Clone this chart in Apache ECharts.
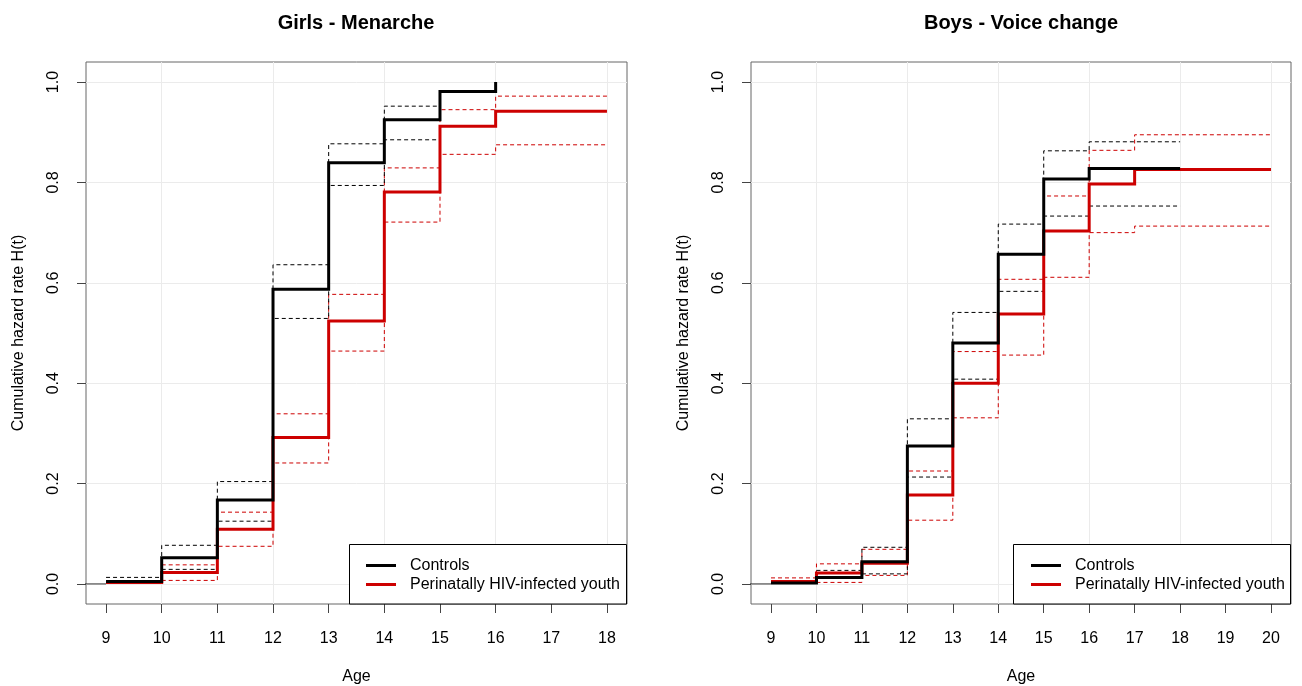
<!DOCTYPE html>
<html>
<head>
<meta charset="utf-8">
<script src="https://cdn.jsdelivr.net/npm/echarts@6/dist/echarts.min.js"></script>
<style>
html,body{margin:0;padding:0;background:#fff;}
#chart{width:1302px;height:686px;}
</style>
</head>
<body>
<div id="chart"></div>
<script>
// ---------- tick labels / axes ----------
const girlsAgeTicks = [9, 10, 11, 12, 13, 14, 15, 16, 17, 18];
const boysAgeTicks = [9, 10, 11, 12, 13, 14, 15, 16, 17, 18, 19, 20];
const girlsGridAges = [10, 12, 14, 16, 18];
const boysGridAges = [10, 12, 14, 16, 18, 20];
const hazardTicks = [0, 0.2, 0.4, 0.6, 0.8, 1.0];
const girlsAgeRange = [8.64, 18.36];
const boysAgeRange = [8.56, 20.44];
const hazardRange = [-0.04, 1.04];

// ---------- Girls - Menarche (values per yearly step, [startAge, endAge]) ----------
const girlsControls = [0.005, 0.052, 0.167, 0.587, 0.839, 0.925, 0.981, 1.000];
const girlsControlsSpan = [9, 16];
const girlsControlsUpper = [0.013, 0.077, 0.204, 0.636, 0.877, 0.952];
const girlsControlsUpperSpan = [9, 15];
const girlsControlsLower = [0.029, 0.125, 0.529, 0.794, 0.885];
const girlsControlsLowerSpan = [10, 15];
const girlsHIV = [0.003, 0.023, 0.109, 0.292, 0.524, 0.781, 0.912, 0.942, 0.942];
const girlsHIVSpan = [9, 18];
const girlsHIVUpper = [0.038, 0.143, 0.339, 0.577, 0.829, 0.945, 0.972, 0.972];
const girlsHIVUpperSpan = [10, 18];
const girlsHIVLower = [0.007, 0.075, 0.241, 0.464, 0.721, 0.856, 0.875, 0.875];
const girlsHIVLowerSpan = [10, 18];

// ---------- Boys - Voice change ----------
const boysControls = [0.002, 0.013, 0.044, 0.275, 0.480, 0.657, 0.807, 0.828, 0.828];
const boysControlsSpan = [9, 18];
const boysControlsUpper = [0.027, 0.073, 0.329, 0.541, 0.717, 0.863, 0.881, 0.881];
const boysControlsUpperSpan = [10, 18];
const boysControlsLower = [0.020, 0.213, 0.408, 0.583, 0.733, 0.753, 0.753];
const boysControlsLowerSpan = [11, 18];
const boysHIV = [0.005, 0.022, 0.041, 0.177, 0.400, 0.538, 0.703, 0.797, 0.826, 0.826, 0.826];
const boysHIVSpan = [9, 20];
const boysHIVUpper = [0.012, 0.040, 0.069, 0.225, 0.463, 0.607, 0.773, 0.864, 0.895, 0.895, 0.895];
const boysHIVUpperSpan = [9, 20];
const boysHIVLower = [0.003, 0.017, 0.127, 0.331, 0.456, 0.611, 0.700, 0.713, 0.713, 0.713];
const boysHIVLowerSpan = [10, 20];

// baseline (H(t) = 0 before the first age) drawn as a thin line
const baselineAges = [0, 9];
const baselineValue = [0, 0];

const panelTitles = ['Girls - Menarche', 'Boys - Voice change'];
const groupNames = ['Controls', 'Perinatally HIV-infected youth'];
const xTitle = 'Age';
const yTitle = 'Cumulative hazard rate H(t)';

// ---------- styling ----------
const FONT = "'Liberation Sans', Arial, Helvetica, sans-serif";
const BLACK = '#000000';
const RED = '#CD0000';
const GRID_COLOR = '#ebebeb';
const BOX_COLOR = '#666666';

function stepPoints(values, span) {
  const pts = values.map((v, i) => [span[0] + i, v]);
  const lastAge = span[0] + values.length - 1;
  if (lastAge < span[1]) pts.push([span[1], values[values.length - 1]]);
  return pts;
}

function mainLine(name, color, values, span, xIdx, yIdx, z) {
  return {
    name: name, type: 'line', step: 'end', xAxisIndex: xIdx, yAxisIndex: yIdx,
    data: stepPoints(values, span), showSymbol: false, symbol: 'none',
    color: color, itemStyle: {color: color},
    lineStyle: {color: color, width: 3, join: 'miter'},
    silent: true, z: z
  };
}
function ciLine(name, color, values, span, xIdx, yIdx) {
  return {
    name: name, type: 'line', step: 'end', xAxisIndex: xIdx, yAxisIndex: yIdx,
    data: stepPoints(values, span), showSymbol: false, symbol: 'none',
    color: color, itemStyle: {color: color},
    lineStyle: {color: color, width: 1, type: [4, 3]},
    silent: true, z: 2
  };
}
function baseLine(name, xIdx, yIdx) {
  return {
    name: name, type: 'line', xAxisIndex: xIdx, yAxisIndex: yIdx,
    data: baselineAges.map((a, i) => [a, baselineValue[i]]), showSymbol: false, symbol: 'none',
    lineStyle: {color: '#333', width: 1}, silent: true, z: 2
  };
}

const grids = [
  {left: 86, top: 62, width: 541, height: 542},
  {left: 751, top: 62, width: 540, height: 542}
];

function xAxesFor(gridIndex, range, ticks, gridAges) {
  return [
    {
      gridIndex: gridIndex, type: 'value', min: range[0], max: range[1], position: 'bottom',
      name: xTitle, nameLocation: 'middle', nameGap: 65,
      nameTextStyle: {fontFamily: FONT, fontSize: 16, color: BLACK},
      axisLine: {show: false, onZero: false},
      axisTick: {show: true, length: 9, customValues: ticks, lineStyle: {color: '#444', width: 1}},
      axisLabel: {show: true, customValues: ticks, margin: 27, fontFamily: FONT, fontSize: 16, color: BLACK,
                  formatter: v => String(v)},
      splitLine: {show: false}
    },
    {
      gridIndex: gridIndex, type: 'value', min: range[0], max: range[1], position: 'top',
      axisLine: {show: false, onZero: false},
      axisTick: {show: false, customValues: gridAges},
      axisLabel: {show: false, customValues: gridAges},
      splitLine: {show: true, lineStyle: {color: GRID_COLOR, width: 1}}
    }
  ];
}
function yAxisFor(gridIndex) {
  return {
    gridIndex: gridIndex, type: 'value', min: hazardRange[0], max: hazardRange[1],
    name: yTitle, nameLocation: 'middle', nameGap: 59,
    nameTextStyle: {fontFamily: FONT, fontSize: 16, color: BLACK},
    axisLine: {show: false, onZero: false},
    axisTick: {show: true, length: 9, customValues: hazardTicks, lineStyle: {color: '#444', width: 1}},
    axisLabel: {show: true, customValues: hazardTicks, rotate: 90, margin: 24, fontFamily: FONT, fontSize: 16,
                color: BLACK, formatter: v => v.toFixed(1)},
    splitLine: {show: true, lineStyle: {color: GRID_COLOR, width: 1}}
  };
}

const series = [
  // Girls (x axis 0, y axis 0)
  baseLine('Girls baseline', 0, 0),
  ciLine('Girls HIV upper CI', RED, girlsHIVUpper, girlsHIVUpperSpan, 0, 0),
  ciLine('Girls HIV lower CI', RED, girlsHIVLower, girlsHIVLowerSpan, 0, 0),
  ciLine('Girls Controls upper CI', BLACK, girlsControlsUpper, girlsControlsUpperSpan, 0, 0),
  ciLine('Girls Controls lower CI', BLACK, girlsControlsLower, girlsControlsLowerSpan, 0, 0),
  mainLine(groupNames[1], RED, girlsHIV, girlsHIVSpan, 0, 0, 3),
  mainLine(groupNames[0], BLACK, girlsControls, girlsControlsSpan, 0, 0, 4),
  // Boys (x axis 2, y axis 1)
  baseLine('Boys baseline', 2, 1),
  ciLine('Boys HIV upper CI', RED, boysHIVUpper, boysHIVUpperSpan, 2, 1),
  ciLine('Boys HIV lower CI', RED, boysHIVLower, boysHIVLowerSpan, 2, 1),
  ciLine('Boys Controls upper CI', BLACK, boysControlsUpper, boysControlsUpperSpan, 2, 1),
  ciLine('Boys Controls lower CI', BLACK, boysControlsLower, boysControlsLowerSpan, 2, 1),
  mainLine(groupNames[1], RED, boysHIV, boysHIVSpan, 2, 1, 3),
  mainLine(groupNames[0], BLACK, boysControls, boysControlsSpan, 2, 1, 4)
];

function legendFor(left) {
  return {
    orient: 'vertical', left: left, top: 556, padding: 0, itemGap: 0,
    itemWidth: 30, itemHeight: 3, icon: 'rect', selectedMode: false, z: 30,
    textStyle: {fontFamily: FONT, fontSize: 16, color: BLACK, lineHeight: 19, padding: [0, 0, 0, 9]},
    data: [
      {name: groupNames[0], itemStyle: {color: BLACK}},
      {name: groupNames[1], itemStyle: {color: RED}}
    ]
  };
}

const option = {
  animation: false,
  backgroundColor: '#ffffff',
  title: [
    {text: panelTitles[0], left: 356, top: 13, textAlign: 'center', padding: 0,
     textStyle: {fontFamily: FONT, fontSize: 20, fontWeight: 'bold', color: BLACK}},
    {text: panelTitles[1], left: 1021, top: 13, textAlign: 'center', padding: 0,
     textStyle: {fontFamily: FONT, fontSize: 20, fontWeight: 'bold', color: BLACK}}
  ],
  grid: grids.map(g => Object.assign({show: true, borderColor: BOX_COLOR, borderWidth: 1,
                                      backgroundColor: 'transparent', containLabel: false,
                                      outerBoundsMode: 'none'}, g)),
  xAxis: [].concat(xAxesFor(0, girlsAgeRange, girlsAgeTicks, girlsGridAges),
                   xAxesFor(1, boysAgeRange, boysAgeTicks, boysGridAges)),
  yAxis: [yAxisFor(0), yAxisFor(1)],
  legend: [legendFor(366), legendFor(1031)],
  graphic: [
    {type: 'rect', z: 20, silent: true, shape: {x: 349.5, y: 544.5, width: 277, height: 59.5},
     style: {fill: '#ffffff', stroke: '#000000', lineWidth: 1}},
    {type: 'rect', z: 20, silent: true, shape: {x: 1013.5, y: 544.5, width: 277, height: 59.5},
     style: {fill: '#ffffff', stroke: '#000000', lineWidth: 1}}
  ],
  series: series
};

const chart = echarts.init(document.getElementById('chart'), null, {renderer: 'canvas'});
chart.setOption(option);
</script>
</body>
</html>
